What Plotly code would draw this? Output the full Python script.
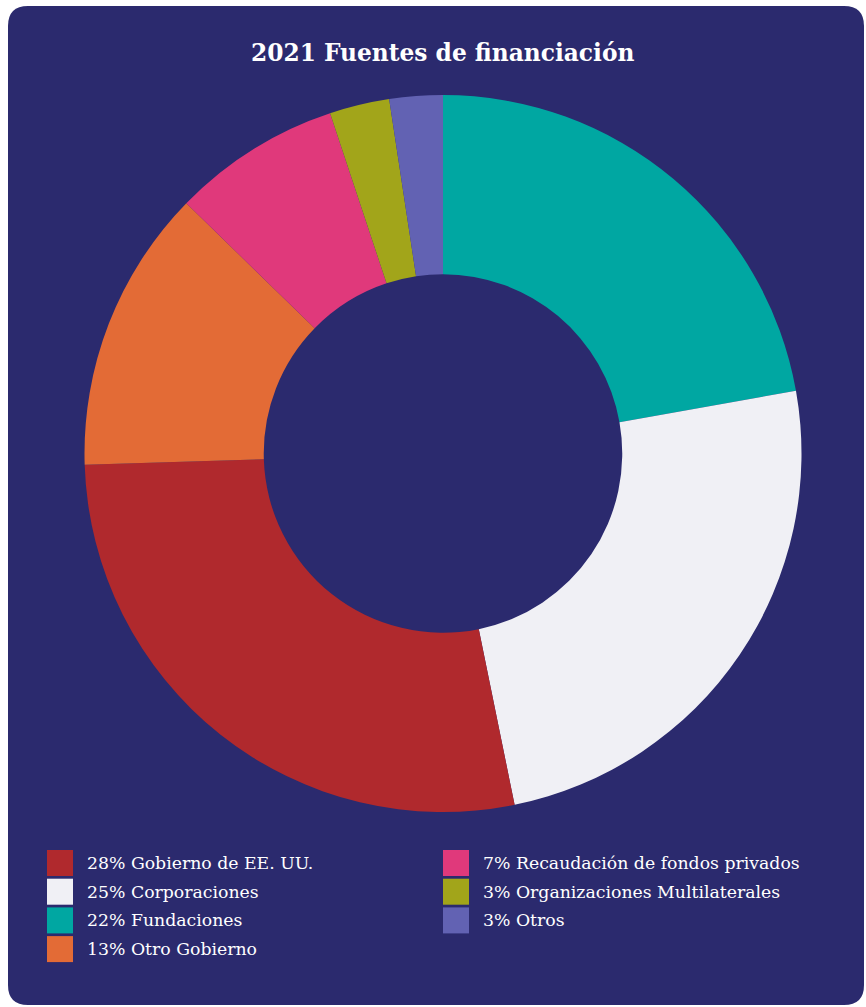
import plotly.graph_objects as go

# ---- data ----
title_text = "2021 Fuentes de financiación"
# slice order as drawn clockwise from 12 o'clock
slice_labels = ["Fundaciones", "Corporaciones", "Gobierno de EE. UU.", "Otro Gobierno",
                "Recaudación de fondos privados", "Organizaciones Multilaterales", "Otros"]
slice_values = [22.2, 24.6, 27.7, 12.8, 7.6, 2.7, 2.4]
slice_colors = ["#00a7a2", "#f0f0f5", "#b0292d", "#e36b36", "#e0397b", "#a2a51a", "#6262b3"]

# legend (column-major order)
legend_labels = ["Gobierno de EE. UU.", "Corporaciones", "Fundaciones", "Otro Gobierno",
                 "Recaudación de fondos privados", "Organizaciones Multilaterales", "Otros"]
legend_pcts = ["28%", "25%", "22%", "13%", "7%", "3%", "3%"]

W, H = 866, 1007
NAVY = "#2b2a6e"

def px(x):
    return x / W

def py(y):
    return 1 - y / H

fig = go.Figure()

fig.add_trace(go.Pie(
    labels=slice_labels,
    values=slice_values,
    marker=dict(colors=slice_colors, line=dict(width=0)),
    hole=0.5,
    sort=False,
    direction="clockwise",
    rotation=0,
    textinfo="none",
    showlegend=False,
    domain=dict(x=[px(84), px(802)], y=[py(812), py(95)]),
))

# rounded card background
x0, x1, y0, y1, r = 8, 864, 6, 1005, 20
path = (
    f"M {px(x0+r)},{py(y0)} L {px(x1-r)},{py(y0)} Q {px(x1)},{py(y0)} {px(x1)},{py(y0+r)} "
    f"L {px(x1)},{py(y1-r)} Q {px(x1)},{py(y1)} {px(x1-r)},{py(y1)} "
    f"L {px(x0+r)},{py(y1)} Q {px(x0)},{py(y1)} {px(x0)},{py(y1-r)} "
    f"L {px(x0)},{py(y0+r)} Q {px(x0)},{py(y0)} {px(x0+r)},{py(y0)} Z"
)
shapes = [dict(type="path", xref="paper", yref="paper", path=path,
               fillcolor=NAVY, line=dict(width=0), layer="below")]

annotations = [dict(text=f"<b>{title_text}</b>", x=px(443), y=py(53), xref="paper", yref="paper",
                    showarrow=False, xanchor="center", yanchor="middle",
                    font=dict(family="DejaVu Serif", size=23.3, color="white"))]

color_of = dict(zip(slice_labels, slice_colors))
col_x = [47, 443]
row_y0, row_step, sq = 850, 28.7, 26
for i, (lab, pct) in enumerate(zip(legend_labels, legend_pcts)):
    col = 0 if i < 4 else 1
    row = i if i < 4 else i - 4
    sx = col_x[col]
    sy = row_y0 + row * row_step
    shapes.append(dict(type="rect", xref="paper", yref="paper",
                       x0=px(sx), x1=px(sx + sq), y0=py(sy + sq), y1=py(sy),
                       fillcolor=color_of[lab], line=dict(width=0)))
    annotations.append(dict(text=f"{pct} {lab}", x=px(sx + 38), y=py(sy + sq / 2),
                            xref="paper", yref="paper", showarrow=False,
                            xanchor="left", yanchor="middle",
                            font=dict(family="DejaVu Serif", size=17.3, color="white")))

fig.update_layout(
    width=W, height=H,
    margin=dict(l=0, r=0, t=0, b=0),
    paper_bgcolor="white",
    plot_bgcolor="white",
    shapes=shapes,
    annotations=annotations,
)

fig.write_html("out.html")
